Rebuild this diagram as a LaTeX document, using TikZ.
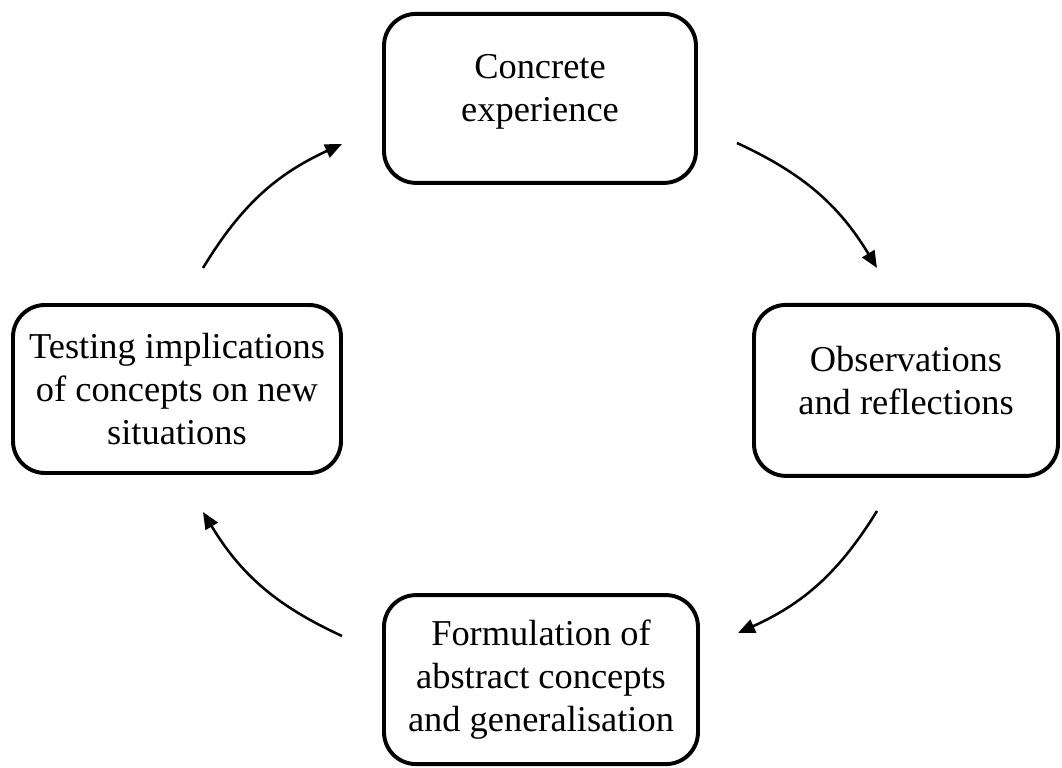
\documentclass[tikz,border=0pt]{standalone}
\usepackage{fontspec}
\setmainfont{Liberation Serif}
\usetikzlibrary{arrows.meta}

\begin{document}
\begin{tikzpicture}[
    box/.style={rectangle, draw, line width=2.8pt, rounded corners=0.8cm,
                align=center, inner sep=2pt,
                font=\fontsize{25.9}{30.6}\selectfont},
    twoline/.style={text depth=0.5cm},
    arr/.style={-{Triangle[length=12pt, width=10pt]}, line width=1.8pt},
  ]
  \useasboundingbox (0,0) rectangle (26.55,-19.2);

  % === Stages ===
  \node[box, twoline, minimum width=7.8cm, minimum height=4.225cm] (concrete) at (13.5, -2.46)
    {Concrete\\experience};
  \node[box, twoline, minimum width=7.6cm, minimum height=4.275cm] (observe) at (22.65, -9.76)
    {Observations\\and reflections};
  \node[box, minimum width=7.85cm, minimum height=4.225cm] (abstract) at (13.525, -16.99)
    {Formulation of\\abstract concepts\\and generalisation};
  \node[box, minimum width=8.2cm, minimum height=4.2cm] (testing) at (4.425, -9.725)
    {Testing implications\\of concepts on new\\situations};

  % === Cycle arrows ===
  \coordinate (a1s) at (18.425, -3.575);
  \coordinate (a1e) at (21.925, -6.7);
  \coordinate (a2s) at (21.925, -12.775);
  \coordinate (a2e) at (18.45, -15.825);
  \coordinate (a3s) at (8.55, -15.9);
  \coordinate (a3e) at (5.075, -12.8);
  \coordinate (a4s) at (5.075, -6.7);
  \coordinate (a4e) at (8.55, -3.6);

  \draw[arr] (a1s) to[bend left=17] (a1e);
  \draw[arr] (a2s) to[bend left=17] (a2e);
  \draw[arr] (a3s) to[bend left=17] (a3e);
  \draw[arr] (a4s) to[bend left=17] (a4e);

\end{tikzpicture}
\end{document}
